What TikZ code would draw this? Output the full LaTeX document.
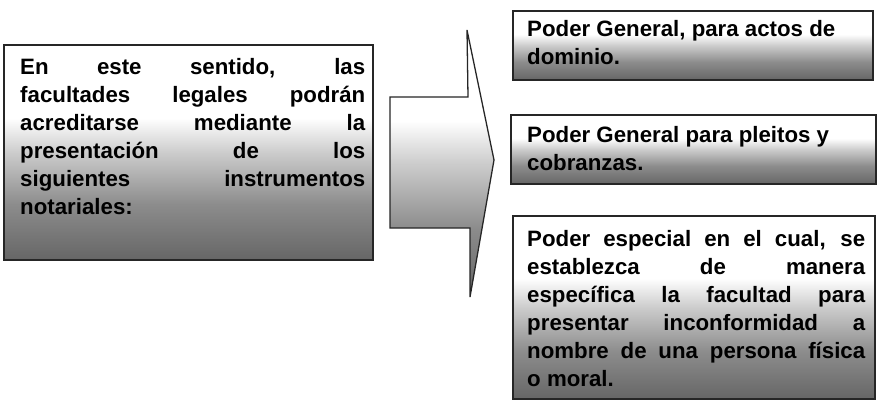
\documentclass[tikz,border=0pt]{standalone}
\usepackage{fontspec}
\setmainfont{Liberation Sans}
\usetikzlibrary{positioning}
\pgfdeclareverticalshading{paperfade}{100bp}{color(0bp)=(black!60); color(25bp)=(black!60); color(38bp)=(black!45); color(50bp)=(black!20); color(58bp)=(white); color(100bp)=(white)}
\tolerance=10000 \hbadness=10000 \hyphenpenalty=10000

\begin{document}
\begin{tikzpicture}[x=0.03cm, y=-0.03cm,
  panel/.style={draw=black!85, line width=1.1pt, shading=paperfade},
  boxtext/.style={anchor=north west, inner sep=0pt, align=justify, font=\bfseries\fontsize{19}{23.9}\selectfont}]
\useasboundingbox (0,0) rectangle (878,401);

\path[panel] (4,45) rectangle (373,260);
\node[boxtext, text width=10.35cm] (Intro) at (20,58) {En este sentido, las\linebreak facultades legales podrán\linebreak acreditarse mediante la\linebreak presentación de los\linebreak siguientes instrumentos\linebreak notariales:};

\path[panel] (390,97) -- (468,97) -- (467,30) -- (494,160) -- (470,297) -- (470,228) -- (390,228) -- cycle;

\path[panel] (513,11) rectangle (873,80);
\node[boxtext, align=left] (ActosDominio) at (527,20) {Poder General, para actos de\\dominio.};

\path[panel] (511,115) rectangle (876,184);
\node[boxtext, align=left] (PleitosCobranzas) at (527,126) {Poder General para pleitos y\\cobranzas.};

\path[panel] (513,216) rectangle (875,399);
\node[boxtext, text width=10.14cm] (PoderEspecial) at (527,230) {Poder especial en el cual, se\linebreak establezca de manera\linebreak específica la facultad para\linebreak presentar inconformidad a\linebreak nombre de una persona física\linebreak o moral.};
\end{tikzpicture}
\end{document}
